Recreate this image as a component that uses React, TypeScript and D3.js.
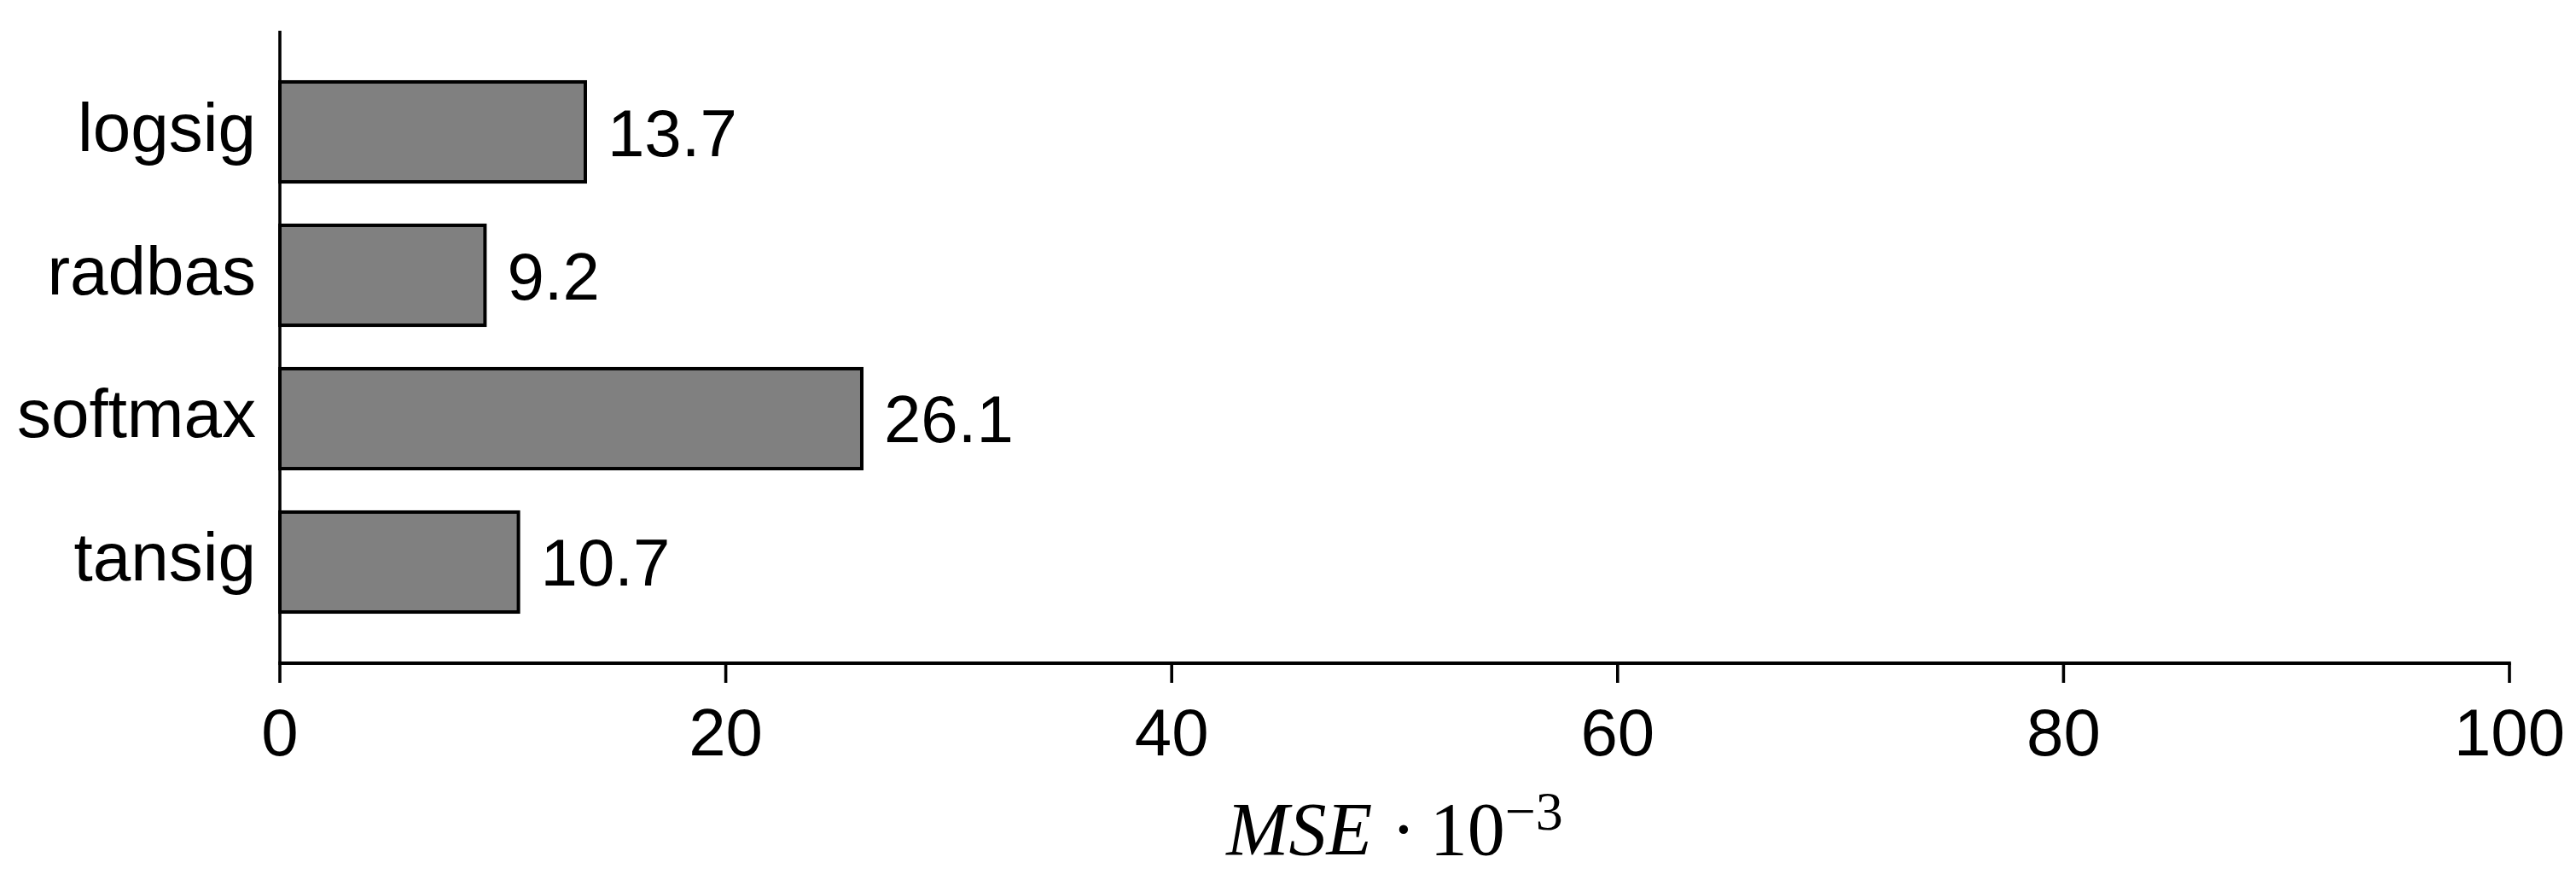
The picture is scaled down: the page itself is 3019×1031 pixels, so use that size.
import { useEffect, useRef } from 'react';
import * as d3 from 'd3';

const CATEGORIES = ['logsig', 'radbas', 'softmax', 'tansig'];
const MSE_VALUES = [13.7, 9.2, 26.1, 10.7];
const X_TICKS = [0, 20, 40, 60, 80, 100];

const WIDTH = 3019;
const HEIGHT = 1031;
const SANS = '"Liberation Sans", Arial, sans-serif';
const SERIF = '"Liberation Serif", "Times New Roman", serif';

export default function App() {
  const svgRef = useRef<SVGSVGElement>(null);

  useEffect(() => {
    if (!svgRef.current) return;
    document.body.style.margin = '0';

    const svg = d3.select(svgRef.current);
    svg.selectAll('*').remove();

    const margin = { top: 36, right: 78, bottom: 254, left: 328 };
    const plotRight = WIDTH - margin.right;
    const plotBottom = HEIGHT - margin.bottom;

    const x = d3.scaleLinear().domain([0, 100]).range([margin.left, plotRight]);
    const y = d3.scaleBand<string>()
      .domain(CATEGORIES)
      .range([margin.top, plotBottom])
      .paddingInner(0.303)
      .paddingOuter(0.357);

    const g = svg.append('g');

    // bars
    g.selectAll('rect.bar')
      .data(CATEGORIES)
      .enter()
      .append('rect')
      .attr('class', 'bar')
      .attr('x', x(0))
      .attr('y', d => y(d) || 0)
      .attr('width', (_, i) => x(MSE_VALUES[i]) - x(0))
      .attr('height', y.bandwidth())
      .attr('fill', '#808080')
      .attr('stroke', '#000')
      .attr('stroke-width', 4);

    // value labels
    g.selectAll('text.value')
      .data(CATEGORIES)
      .enter()
      .append('text')
      .attr('class', 'value')
      .attr('x', (_, i) => x(MSE_VALUES[i]) + 26)
      .attr('y', d => (y(d) || 0) + y.bandwidth() / 2 + 28)
      .attr('font-family', SANS)
      .attr('font-size', 78)
      .attr('fill', '#000')
      .text((_, i) => d3.format('.1f')(MSE_VALUES[i]));

    // category labels
    g.selectAll('text.cat')
      .data(CATEGORIES)
      .enter()
      .append('text')
      .attr('class', 'cat')
      .attr('x', margin.left - 28)
      .attr('y', d => (y(d) || 0) + y.bandwidth() / 2 + 22)
      .attr('text-anchor', 'end')
      .attr('font-family', SANS)
      .attr('font-size', 80)
      .attr('fill', '#000')
      .text(d => d);

    // left axis line
    g.append('line')
      .attr('x1', x(0))
      .attr('x2', x(0))
      .attr('y1', margin.top)
      .attr('y2', plotBottom)
      .attr('stroke', '#000')
      .attr('stroke-width', 3.6);

    // bottom axis
    g.append('line')
      .attr('x1', x(0) - 1.8)
      .attr('x2', x(100) + 1.8)
      .attr('y1', plotBottom)
      .attr('y2', plotBottom)
      .attr('stroke', '#000')
      .attr('stroke-width', 4);

    g.selectAll('line.tick')
      .data(X_TICKS)
      .enter()
      .append('line')
      .attr('class', 'tick')
      .attr('x1', d => x(d))
      .attr('x2', d => x(d))
      .attr('y1', plotBottom)
      .attr('y2', plotBottom + 23)
      .attr('stroke', '#000')
      .attr('stroke-width', 3.6);

    g.selectAll('text.tick-label')
      .data(X_TICKS)
      .enter()
      .append('text')
      .attr('class', 'tick-label')
      .attr('x', d => x(d))
      .attr('y', plotBottom + 108)
      .attr('text-anchor', 'middle')
      .attr('font-family', SANS)
      .attr('font-size', 78)
      .attr('fill', '#000')
      .text(d => String(d));

    // axis title: MSE · 10^-3
    const title = g.append('text')
      .attr('x', (x(0) + x(100)) / 2)
      .attr('y', plotBottom + 224)
      .attr('text-anchor', 'middle')
      .attr('font-family', SERIF)
      .attr('font-size', 88)
      .attr('fill', '#000');
    title.append('tspan').attr('font-style', 'italic').text('MSE');
    title.append('tspan').attr('dx', 22).text('·');
    title.append('tspan').attr('dx', 16).text('10');
    title.append('tspan')
      .attr('dy', -29)
      .attr('font-size', 64)
      .text('−3');
  }, []);

  return (
    <svg
      ref={svgRef}
      width={WIDTH}
      height={HEIGHT}
      style={{ position: 'absolute', left: 0, top: 0, background: '#fff', display: 'block' }}
    />
  );
}
